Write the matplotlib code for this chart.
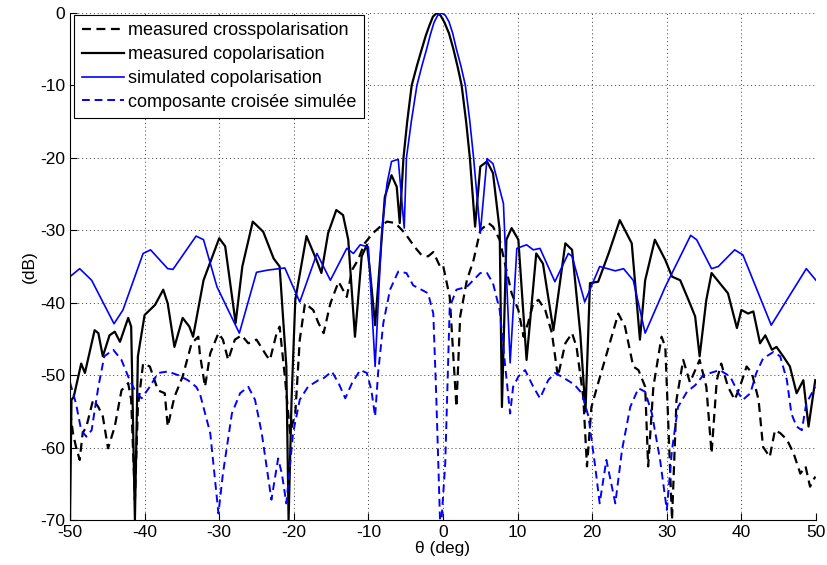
import numpy as np
import matplotlib
matplotlib.use("Agg")
from matplotlib import pyplot as plt

plt.rcParams['font.family'] = ['Liberation Sans', 'DejaVu Sans']
plt.rcParams['axes.unicode_minus'] = False

# measured cross polarisation (black dashed)
meas_x_deg = [-50.0, -49.6, -49.2, -48.7, -48.3, -47.8, -46.9, -46.2, -45.6, -44.9, -44.0, -43.1,
              -42.2, -41.8, -41.3, -40.9, -40.2, -39.3, -38.2, -37.3, -36.9, -36.0, -34.9, -33.7,
              -32.8, -32.6, -31.9, -31.2, -30.1, -29.5, -28.8, -27.9, -27.0, -26.1, -25.0, -23.6,
              -23.2, -22.3, -21.9, -21.2, -20.5, -19.8, -19.2, -18.5, -17.4, -16.7, -16.0, -15.1,
              -14.0, -12.9, -12.2, -11.4, -10.5, -9.4, -8.2, -7.5, -6.4, -5.1, -3.8, -2.9, -2.0,
              -1.3, -0.4, 0.0, 0.9, 1.8, 2.3, 3.2, 4.1, 5.0, 6.1, 6.7, 7.6, 8.5, 9.2, 10.1, 10.8,
              11.4, 12.1, 12.8, 13.7, 14.6, 15.4, 16.4, 17.3, 17.9, 18.8, 19.3, 19.9, 20.8, 21.7,
              23.5, 24.4, 25.5, 26.2, 27.1, 27.5, 28.2, 29.3, 29.8, 30.7, 31.3, 32.2, 33.1, 34.4,
              35.3, 36.0, 36.7, 37.3, 38.2, 39.1, 39.8, 40.7, 41.4, 42.3, 42.9, 43.8, 44.5, 45.2,
              46.1, 47.0, 47.9, 48.6, 49.2, 49.9]
meas_x_db = [-55.0, -58.0, -59.9, -61.7, -58.0, -57.1, -53.4, -54.4, -55.7, -60.1, -57.1, -52.1,
             -51.1, -53.4, -67.2, -54.4, -48.4, -48.8, -52.1, -52.5, -57.1, -53.0, -50.2, -45.6,
             -44.7, -47.0, -51.6, -47.0, -44.2, -45.1, -47.9, -45.1, -44.5, -45.6, -45.1, -47.4,
             -47.9, -44.2, -43.3, -50.2, -58.0, -55.3, -45.1, -40.1, -41.0, -42.8, -44.2, -40.1,
             -37.1, -39.2, -35.5, -34.1, -31.8, -30.4, -29.3, -28.8, -29.0, -30.4, -32.3, -33.4,
             -33.6, -33.0, -35.0, -34.8, -39.2, -54.4, -41.9, -36.9, -34.1, -30.0, -29.0, -29.5,
             -31.3, -35.5, -38.7, -41.0, -44.7, -42.8, -40.1, -39.6, -41.0, -44.2, -50.2, -45.6,
             -44.2, -46.1, -53.0, -62.6, -54.4, -51.1, -47.9, -41.5, -43.3, -48.8, -49.3, -51.6,
             -62.6, -51.6, -44.7, -46.1, -70.0, -53.4, -47.9, -51.0, -47.9, -51.6, -60.8, -50.7,
             -48.4, -51.6, -53.4, -51.6, -48.8, -49.7, -53.4, -59.9, -61.3, -57.6, -58.0, -58.9,
             -60.8, -63.6, -62.6, -65.4, -64.0]

# measured copolarisation (black solid)
meas_co_deg = [-50.0, -49.8, -49.5, -48.5, -48.0, -46.7, -46.2, -45.6, -44.7, -44.0, -43.3, -42.2,
               -41.8, -41.3, -40.9, -40.0, -38.6, -37.5, -36.9, -36.0, -34.9, -34.0, -33.5, -32.1,
               -30.0, -29.2, -27.8, -26.9, -25.5, -24.1, -22.7, -21.9, -21.0, -20.7, -20.3, -19.8,
               -18.3, -16.8, -16.3, -15.4, -14.3, -13.4, -12.7, -11.8, -10.9, -10.2, -9.8, -9.1,
               -8.4, -7.8, -6.9, -6.2, -5.8, -5.3, -4.8, -4.2, -3.5, -2.85, -2.3, -1.85, -1.35,
               -0.85, -0.35, 0.15, 0.8, 1.4, 2.0, 2.5, 3.1, 3.6, 4.3, 5.0, 5.9, 6.7, 7.6, 7.9,
               8.5, 9.2, 10.1, 11.2, 12.5, 13.4, 14.8, 16.4, 17.3, 18.4, 19.1, 19.7, 20.8, 22.2,
               23.7, 25.3, 26.4, 27.1, 28.4, 29.8, 30.7, 31.8, 33.1, 33.8, 34.4, 35.3, 36.0, 37.1,
               38.2, 39.4, 40.0, 40.9, 41.6, 42.5, 43.2, 44.1, 44.7, 45.6, 46.5, 47.4, 48.3, 49.0,
               49.9]
meas_co_db = [-70.0, -53.4, -53.0, -48.4, -49.7, -43.8, -44.2, -47.4, -44.5, -44.0, -45.4, -42.1,
              -43.3, -70.0, -47.4, -41.7, -40.3, -38.2, -40.1, -46.1, -42.1, -43.3, -44.7, -36.9,
              -31.1, -32.2, -42.8, -35.0, -28.8, -30.2, -33.9, -35.0, -48.8, -70.0, -53.4, -39.6,
              -30.8, -34.5, -35.9, -30.4, -27.2, -27.9, -31.3, -44.7, -33.6, -32.0, -35.5, -43.1,
              -33.6, -25.4, -22.4, -24.0, -29.0, -20.0, -15.0, -10.0, -7.3, -5.0, -3.1, -1.8,
              -0.5, 0.0, -0.3, -1.2, -2.8, -5.0, -7.6, -10.0, -15.0, -20.0, -29.5, -21.2, -20.5,
              -22.1, -30.0, -54.4, -31.3, -29.7, -31.3, -47.9, -33.2, -34.6, -43.8, -31.8, -32.7,
              -44.2, -55.0, -37.3, -37.1, -33.2, -28.6, -31.8, -45.1, -36.9, -31.3, -34.1, -36.4,
              -36.9, -40.1, -41.9, -47.4, -39.6, -35.9, -37.3, -38.7, -43.5, -41.0, -41.5, -41.2,
              -45.6, -44.5, -46.5, -46.1, -47.4, -48.8, -52.5, -50.7, -57.1, -50.7]

# simulated copolarisation (blue solid)
sim_co_deg = [-50.0, -48.7, -47.1, -44.1, -42.9, -40.2, -39.2, -36.9, -36.2, -33.1, -32.1, -30.3,
              -27.3, -25.0, -23.5, -21.2, -19.2, -16.9, -15.1, -12.9, -12.0, -11.1, -10.0, -9.1,
              -8.2, -7.5, -6.9, -6.0, -5.8, -5.2, -4.9, -4.25, -3.5, -2.8, -2.2, -1.7, -1.2,
              -0.7, -0.2, 0.3, 0.8, 1.3, 1.8, 2.4, 3.0, 3.6, 4.1, 5.0, 5.9, 6.7, 8.1, 9.0, 9.9,
              11.2, 12.1, 13.0, 15.0, 16.8, 17.3, 19.0, 21.0, 23.1, 24.2, 25.5, 27.1, 29.8, 33.2,
              34.0, 36.0, 36.9, 39.1, 40.2, 44.0, 48.7, 50.0]
sim_co_db = [-36.4, -35.3, -36.9, -42.9, -41.0, -33.2, -32.7, -35.3, -35.4, -30.8, -31.3, -37.8,
             -44.2, -35.8, -35.5, -35.2, -39.9, -33.2, -36.9, -32.5, -33.2, -32.0, -32.3, -48.8,
             -30.0, -23.5, -20.5, -20.2, -22.6, -29.7, -20.0, -15.0, -10.0, -7.2, -5.0, -3.0,
             -1.3, -0.3, 0.0, -0.3, -1.2, -2.8, -5.0, -7.3, -10.0, -15.0, -20.0, -30.4, -20.1,
             -20.8, -26.3, -48.3, -32.5, -32.0, -32.7, -32.5, -37.1, -33.2, -33.6, -39.9, -35.0,
             -35.6, -35.3, -36.9, -44.2, -37.8, -30.7, -31.3, -35.3, -35.0, -32.7, -33.4, -43.1,
             -35.3, -36.9]

# composante croisee simulee (blue dashed)
sim_x_deg = [-50.0, -49.2, -48.5, -47.8, -47.1, -46.2, -45.4, -44.2, -43.1, -42.0, -41.1, -40.4,
             -39.3, -38.2, -36.9, -35.5, -34.2, -33.1, -32.6, -31.2, -30.1, -29.5, -28.3, -27.2,
             -26.1, -25.2, -24.3, -23.0, -22.1, -21.6, -21.0, -20.1, -19.2, -18.1, -16.7, -16.1,
             -14.9, -14.0, -13.1, -12.2, -11.1, -10.2, -9.6, -9.1, -8.7, -8.0, -7.1, -6.0, -4.9,
             -4.0, -2.9, -2.0, -1.3, -0.9, -0.4, -0.2, 0.3, 0.9, 1.8, 3.2, 5.0, 5.9, 6.7, 7.6, 8.3,
             9.0, 9.4, 10.1, 11.0, 12.1, 13.0, 14.1, 15.0, 15.9, 17.0, 17.7, 18.6, 19.5, 20.4,
             21.0, 21.9, 23.1, 24.0, 25.1, 26.2, 27.1, 28.0, 29.1, 30.0, 30.7, 31.5, 32.7, 33.8,
             34.9, 37.1, 38.5, 39.6, 40.2, 41.2, 42.0, 42.9, 44.3, 45.2, 46.1, 46.7, 47.4, 48.1,
             48.7, 49.9]
sim_x_db = [-51.0, -53.9, -57.6, -58.5, -57.6, -51.6, -47.4, -46.5, -47.9, -50.7, -52.5, -53.2,
            -51.6, -49.7, -49.5, -50.0, -50.7, -51.6, -52.5, -58.0, -69.1, -63.6, -55.3, -52.5,
            -51.6, -53.4, -58.0, -67.2, -61.5, -63.6, -67.7, -58.0, -53.4, -51.6, -50.7, -50.5,
            -49.5, -51.1, -53.2, -51.1, -49.3, -49.7, -52.1, -55.7, -49.7, -42.8, -38.2, -35.7,
            -35.9, -37.6, -38.2, -38.7, -41.5, -53.0, -70.0, -70.0, -62.2, -40.6, -38.2, -37.8,
            -35.9, -35.9, -37.3, -41.0, -48.4, -55.3, -51.6, -50.2, -49.3, -51.6, -53.2, -50.7,
            -49.7, -50.2, -50.9, -51.4, -52.5, -55.7, -62.6, -67.7, -61.7, -67.7, -60.3, -54.4,
            -51.8, -52.3, -55.3, -61.7, -68.6, -60.3, -54.4, -52.3, -51.4, -50.0, -49.3, -50.2,
            -52.5, -53.4, -52.5, -49.7, -47.7, -46.8, -47.4, -50.7, -55.3, -57.1, -57.6, -53.9,
            -51.6]

labels = ['measured crosspolarisation', 'measured copolarisation',
          'simulated copolarisation', 'composante croisée simulée']

fig = plt.figure(figsize=(8.28, 5.65), dpi=100)
ax = fig.add_axes([70 / 828, 1 - 520 / 565, 746 / 828, 507 / 565])

dash = (0, (4, 2.5))
ax.plot(meas_x_deg, meas_x_db, color='black', lw=1.6, linestyle=dash, label=labels[0])
ax.plot(meas_co_deg, meas_co_db, color='black', lw=1.6, label=labels[1])
ax.plot(sim_co_deg, sim_co_db, color='#0000ff', lw=1.2, label=labels[2])
ax.plot(sim_x_deg, sim_x_db, color='#0000ff', lw=1.4, linestyle=dash, label=labels[3])

ax.set_xlim(-50, 50)
ax.set_ylim(-70, 0)
ax.set_xticks(np.arange(-50, 51, 10))
ax.set_yticks(np.arange(-70, 1, 10))
ax.grid(True, color='0.25', linestyle=(0, (1, 3)), linewidth=0.7)
ax.set_axisbelow(True)
ax.spines['top'].set_visible(False)
ax.spines['right'].set_visible(False)
ax.tick_params(direction='in', length=5, labelsize=12.5, top=False, right=False)
ax.set_xlabel('θ (deg)', fontsize=12.5, labelpad=1)
ax.set_ylabel('(dB)', fontsize=12.5, labelpad=2)

leg = ax.legend(loc='upper left', bbox_to_anchor=(0.006, 0.997), borderaxespad=0,
                fontsize=13, fancybox=False, framealpha=1, edgecolor='black',
                handlelength=2.35, handletextpad=0.2, labelspacing=0.38, borderpad=0.42)
leg.get_frame().set_linewidth(0.8)

fig.savefig('out.png', dpi=100)
